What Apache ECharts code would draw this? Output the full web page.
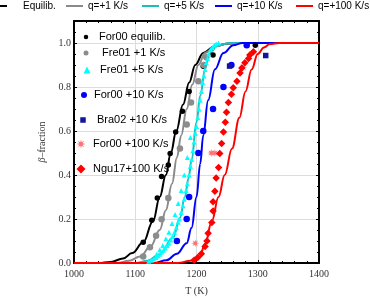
<!DOCTYPE html>
<html>
<head>
<meta charset="utf-8">
<script src="https://cdn.jsdelivr.net/npm/echarts@6/dist/echarts.min.js"></script>
<style>html,body{margin:0;padding:0;background:#fff;}#c{width:370px;height:301px;}</style>
</head>
<body>
<div id="c"></div>
<script>
// ---- axis ticks ----
const xTicks = [1000, 1100, 1200, 1300, 1400];
const yTicks = [0.0, 0.2, 0.4, 0.6, 0.8, 1.0];

// ---- model curves ----
const lineNames = ['Equilib.', 'q=+1 K/s', 'q=+5 K/s', 'q=+10 K/s', 'q=+100 K/s'];
const eqT  = [1000,1040,1060,1080,1095,1113,1129,1140,1150,1158,1167,1178,1188,1198,1211,1230,1250,1270,1400];
const eqF  = [0,0,0.005,0.02,0.045,0.094,0.19,0.30,0.40,0.50,0.60,0.72,0.82,0.90,0.955,0.985,0.997,1,1];
const q1T  = [1000,1070,1090,1108,1125,1140,1150,1160,1168,1175,1184,1193,1203,1214,1230,1250,1270,1400];
const q1F  = [0,0,0.01,0.03,0.075,0.15,0.24,0.36,0.48,0.58,0.70,0.81,0.90,0.955,0.985,0.997,1,1];
const q5T  = [1000,1100,1120,1140,1162,1173,1181,1187,1192,1200,1206,1214,1220,1235,1255,1400];
const q5F  = [0,0,0.01,0.04,0.117,0.206,0.30,0.385,0.47,0.64,0.76,0.88,0.95,0.99,1,1];
const q10T = [1000,1130,1151,1168,1184,1192,1200,1206,1211,1219,1230,1244,1260,1275,1400];
const q10F = [0,0,0.012,0.042,0.09,0.16,0.30,0.45,0.58,0.74,0.88,0.954,0.99,1,1];
const q100T= [1000,1170,1190,1205,1214,1225,1236,1246,1258,1270,1280,1290,1300,1310,1320,1335,1400];
const q100F= [0,0,0.01,0.027,0.087,0.19,0.30,0.40,0.52,0.66,0.78,0.88,0.95,0.98,0.995,1,1];

// ---- experimental points ----
const scatterNames = ['For00 equilib.', 'Fre01 +1 K/s', 'Fre01 +5 K/s', 'For00 +10 K/s', 'Bra02 +10 K/s', 'For00 +100 K/s', 'Ngu17+100 K/s'];
const for00EqT = [1113,1127,1136,1143,1154,1157,1166,1177,1188,1211,1227,1296];
const for00EqF = [0.094,0.194,0.296,0.393,0.445,0.498,0.595,0.69,0.78,0.894,0.946,0.99];
const fre01q1T = [1113,1124,1134,1143,1154,1173,1184,1191,1203,1212,1216];
const fre01q1F = [0.03,0.072,0.124,0.199,0.296,0.52,0.63,0.73,0.826,0.90,0.935];
const fre01q5T = [1122,1126,1130,1134,1137,1140,1143,1146,1149,1152,1155,1158,1161,1164,1167,1170,1172,1175,1178,1180,1183,1185,1188,1190,1192,1194,1196,1198,1200,1202,1204,1206,1208,1210,1212,1214,1216,1218,1220,1223,1226,1229,1232,1236,
                  1135,1140,1145,1150,1155,1160,1165,1170,1175,1180,1185,1190];
const fre01q5F = [0.008,0.012,0.018,0.025,0.032,0.04,0.05,0.058,0.068,0.08,0.09,0.105,0.12,0.14,0.16,0.185,0.2,0.23,0.26,0.29,0.33,0.36,0.40,0.44,0.47,0.51,0.55,0.59,0.62,0.66,0.70,0.74,0.78,0.82,0.85,0.88,0.91,0.93,0.95,0.97,0.98,0.99,0.995,1.0,
                  0.04,0.06,0.08,0.11,0.14,0.18,0.22,0.27,0.33,0.40,0.48,0.57];
const for00q10T = [1168,1184,1188,1203,1211,1227,1244,1257,1282];
const for00q10F = [0.10,0.20,0.30,0.50,0.60,0.70,0.80,0.90,0.99];
const bra02q10T = [1254,1313];
const bra02q10F = [0.895,0.943];
const for00q100T = [1198,1224,1230,1276];
const for00q100F = [0.09,0.50,0.50,0.89];
const ngu17T = [1196,1202,1208,1214,1217,1219,1225,1227,1227,1230,1232,1236,1238,1241,1244,1247,1249,1252,1257,1260,1266,1271,1274,1279,1285,1287,1293];
const ngu17F = [0.012,0.025,0.042,0.075,0.10,0.135,0.184,0.236,0.278,0.326,0.386,0.434,0.498,0.543,0.595,0.64,0.685,0.73,0.767,0.797,0.826,0.864,0.886,0.91,0.93,0.946,0.96];

const zip = (a, b) => a.map((v, i) => [v, b[i]]);
const starPath = 'path://M100,50L68.5,57.7L85.4,85.4L57.7,68.5L50,100L42.3,68.5L14.6,85.4L31.5,57.7L0,50L31.5,42.3L14.6,14.6L42.3,31.5L50,0L57.7,31.5L85.4,14.6L68.5,42.3Z';

const lineColors = ['#000000', '#8a8a8a', '#1fbcbc', '#0000ff', '#ff0000'];
const lineData = [zip(eqT, eqF), zip(q1T, q1F), zip(q5T, q5F), zip(q10T, q10F), zip(q100T, q100F)];
// top legend placement: icon left, icon width, extra text padding
const lineLegendPos = [{left: 0, w: 7, pad: 11}, {left: 66, w: 17, pad: 0}, {left: 142, w: 17, pad: 0}, {left: 215, w: 17, pad: 0}, {left: 296, w: 17, pad: 0}];

const scatterDefs = [
  {data: zip(for00EqT, for00EqF), color: '#000000', symbol: 'circle', size: 5.5, lg: {x: 86, y: 37, s: 4.5, tx: 99}},
  {data: zip(fre01q1T, fre01q1F), color: '#8c8c8c', symbol: 'circle', size: 6.5, lg: {x: 86, y: 53, s: 5, tx: 102}},
  {data: zip(fre01q5T, fre01q5F), color: '#00ffff', symbol: 'triangle', size: 5, lg: {x: 87, y: 70, s: 7, tx: 100}},
  {data: zip(for00q10T, for00q10F), color: '#0000ff', symbol: 'circle', size: 6.5, lg: {x: 84, y: 95, s: 6, tx: 94}},
  {data: zip(bra02q10T, bra02q10F), color: '#1414a0', symbol: 'rect', size: 5.5, lg: {x: 83, y: 120, s: 5.5, tx: 97}},
  {data: zip(for00q100T, for00q100F), color: '#ff7070', symbol: starPath, size: 8, lg: {x: 81, y: 144, s: 9, tx: 93}},
  {data: zip(ngu17T, ngu17F), color: '#ff0000', symbol: 'diamond', size: 7.5, lg: {x: 81, y: 169, s: 9, tx: 93}}
];

const series = [];
lineNames.forEach((n, i) => {
  series.push({
    name: n, type: 'line', data: lineData[i], xAxisIndex: 0, yAxisIndex: 0,
    showSymbol: false, symbol: 'none', smooth: 0.4, smoothMonotone: 'x',
    lineStyle: {color: lineColors[i], width: 2}, itemStyle: {color: lineColors[i]},
    z: 2, silent: true, animation: false
  });
});
scatterNames.forEach((n, i) => {
  const d = scatterDefs[i];
  series.push({
    name: n, type: 'scatter', data: d.data, xAxisIndex: 0, yAxisIndex: 0,
    symbol: d.symbol, symbolSize: d.size, itemStyle: {color: d.color, opacity: 1},
    z: 3, silent: true, animation: false
  });
});

const legends = [];
lineNames.forEach((n, i) => {
  const p = lineLegendPos[i];
  legends.push({
    data: [{name: n, icon: 'rect'}], left: p.left, top: 0, padding: 0, itemWidth: p.w, itemHeight: 2,
    itemStyle: {color: lineColors[i]}, lineStyle: {width: 0},
    textStyle: {fontFamily: 'Liberation Sans', fontSize: 10, color: '#000', lineHeight: 12, padding: [0, 0, 0, p.pad]},
    selectedMode: false
  });
});
scatterNames.forEach((n, i) => {
  const g = scatterDefs[i].lg;
  const left = g.x - g.s / 2;
  legends.push({
    data: [n], left: left, top: g.y - 10, padding: 0, itemWidth: g.s, itemHeight: g.s,
    textStyle: {fontFamily: 'Liberation Sans', fontSize: 11, color: '#000', lineHeight: 14,
      padding: [0, 0, 6, g.tx - (left + g.s + 5)]},
    selectedMode: false
  });
});

const serif = 'Liberation Serif';
const axisCommon = {
  type: 'value', min: xTicks[0], max: xTicks[xTicks.length - 1], interval: 100,
  axisLine: {show: true, onZero: false, lineStyle: {color: '#000', width: 2}},
  axisTick: {show: true, inside: true, length: 3, lineStyle: {color: '#000', width: 1}},
  minorTick: {show: true, splitNumber: 5, length: 2, lineStyle: {color: '#000', width: 1}}
};
const yCommon = {
  type: 'value', min: 0, max: 1.1, interval: 0.2,
  axisLine: {show: true, onZero: false, lineStyle: {color: '#000', width: 2}},
  axisTick: {show: true, inside: true, length: 3, lineStyle: {color: '#000', width: 1}},
  minorTick: {show: true, splitNumber: 4, length: 2, lineStyle: {color: '#000', width: 1}}
};

const option = {
  backgroundColor: '#fff',
  animation: false,
  grid: {left: 74, right: 51, top: 21, bottom: 35, containLabel: false},
  legend: legends,
  xAxis: [
    Object.assign({}, axisCommon, {
      position: 'bottom', name: 'T (K)', nameLocation: 'middle', nameGap: 23,
      nameTextStyle: {fontFamily: serif, fontSize: 10, color: '#333'},
      axisLabel: {show: true, margin: 6, fontFamily: serif, fontSize: 10, color: '#333',
        formatter: v => xTicks.includes(v) ? String(v) : ''},
      splitLine: {show: true, lineStyle: {color: '#dcdcdc', width: 1}}
    }),
    Object.assign({}, axisCommon, {
      position: 'top', axisLabel: {show: false}, splitLine: {show: false}
    })
  ],
  yAxis: [
    Object.assign({}, yCommon, {
      position: 'left', name: '{i|β}–fraction', nameLocation: 'middle', nameGap: 21,
      nameTextStyle: {fontFamily: serif, fontSize: 10, color: '#333',
        rich: {i: {fontFamily: serif, fontStyle: 'italic', fontSize: 10, color: '#333'}}},
      axisLabel: {show: true, margin: 3, fontFamily: serif, fontSize: 10, color: '#333', showMaxLabel: false,
        formatter: v => yTicks.some(t => Math.abs(t - v) < 1e-9) ? v.toFixed(1) : ''},
      splitLine: {show: true, lineStyle: {color: '#dcdcdc', width: 1}}
    }),
    Object.assign({}, yCommon, {
      position: 'right', axisLabel: {show: false}, splitLine: {show: false}
    })
  ],
  series: series
};

const chart = echarts.init(document.getElementById('c'), null, {renderer: 'canvas'});
chart.setOption(option);
</script>
</body>
</html>
